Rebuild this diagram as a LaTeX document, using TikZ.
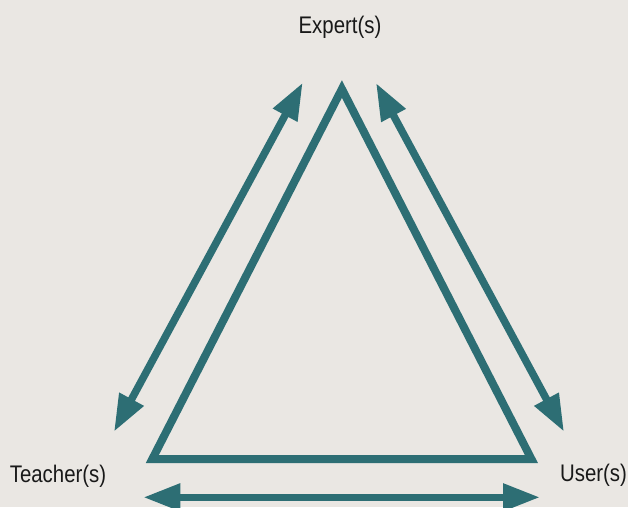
\documentclass[tikz,border=0pt]{standalone}
\usepackage{fontspec}
\setmainfont{Liberation Sans}[FakeStretch=0.85]
\usetikzlibrary{arrows.meta}
\definecolor{teal1}{RGB}{45,110,116}
\definecolor{bgc}{RGB}{234,231,227}
\tikzset{
  lbl/.style={anchor=base, font=\fontsize{24}{28}\selectfont, text=black!90, inner sep=0pt},
  twoway/.style={draw=teal1, line width=7.5pt, {Triangle[length=37pt,width=26pt]}-{Triangle[length=37pt,width=26pt]}},
  tri/.style={draw=teal1, line width=8pt, line join=miter}
}
\begin{document}
\begin{tikzpicture}[x=1pt,y=-1pt]
\fill[bgc] (0,0) rectangle (628,507);
\useasboundingbox (0,0) rectangle (628,507);
\node[lbl] (expert) at (340,33) {Expert(s)};
\node[lbl] (teacher) at (58,482) {Teacher(s)};
\node[lbl] (user) at (593.5,481) {User(s)};
\coordinate (A) at (341.9,89);
\coordinate (B) at (152.3,459);
\coordinate (C) at (531.4,459);
\draw[tri] (A) -- (B) -- (C) -- cycle;
\coordinate (l1) at (302.7,82.7);
\coordinate (l2) at (114,431.7);
\coordinate (r1) at (376,83);
\coordinate (r2) at (564,431.7);
\coordinate (b1) at (143.3,497.3);
\coordinate (b2) at (540,497.3);
\draw[twoway] (l1) -- (l2);
\draw[twoway] (r1) -- (r2);
\draw[twoway] (b1) -- (b2);
\end{tikzpicture}
\end{document}
